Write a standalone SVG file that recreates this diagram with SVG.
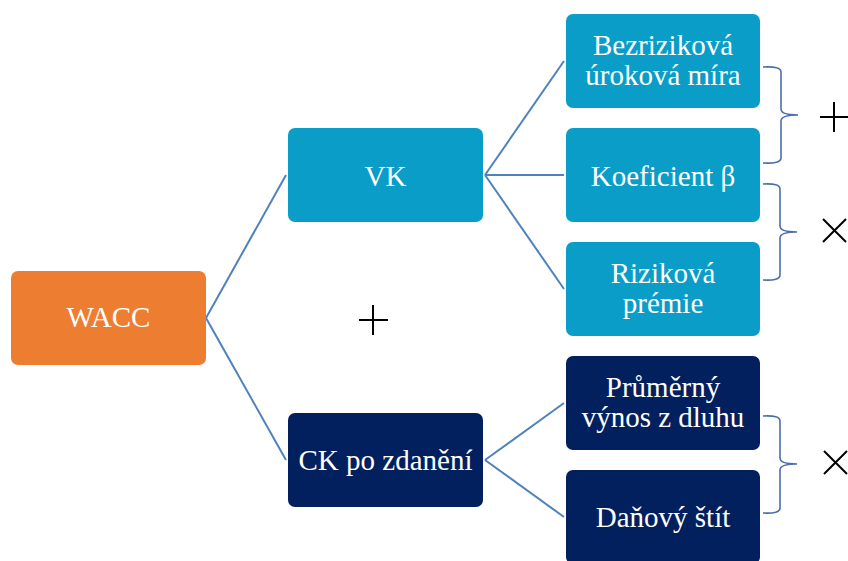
<svg xmlns="http://www.w3.org/2000/svg" width="848" height="561" viewBox="0 0 848 561">
<style>
.t{font-family:"Liberation Serif","Times New Roman",serif;font-size:29px;fill:#fff;text-anchor:middle}
.lb{fill:#0A9DC7}
.nv{fill:#021F5E}
.or{fill:#ED7D31}
.c{stroke:#4F81BD;stroke-width:2;fill:none}
.br{stroke:#4A6FAE;stroke-width:1.6;fill:none}
.op{stroke:#000;stroke-width:2;fill:none}
</style>
<rect width="848" height="561" fill="#fff"/>
<g id="connectors">
<path class="c" d="M206,318 L286,175"/>
<path class="c" d="M206,318 L286,460"/>
<path class="c" d="M485,175 L564,61"/>
<path class="c" d="M485,175 L564,175"/>
<path class="c" d="M485,175 L564,289"/>
<path class="c" d="M485,460 L564,403"/>
<path class="c" d="M485,460 L564,517"/>
</g>
<g id="wacc"><rect class="or" x="11" y="271" width="195" height="94" rx="7"/><text class="t" x="108.5" y="327">WACC</text></g>
<g id="vk"><rect class="lb" x="288" y="128" width="195" height="94" rx="7"/><text class="t" x="385.5" y="186">VK</text></g>
<g id="ck"><rect class="nv" x="288" y="413" width="195" height="94" rx="7"/><text class="t" x="385.5" y="470">CK po zdanění</text></g>
<g id="bezrizikova"><rect class="lb" x="566" y="14" width="194" height="94" rx="7"/><text class="t" x="663" y="55">Bezriziková</text><text class="t" x="663" y="85">úroková míra</text></g>
<g id="koeficient"><rect class="lb" x="566" y="128" width="194" height="94" rx="7"/><text class="t" x="663" y="186">Koeficient β</text></g>
<g id="rizikova"><rect class="lb" x="566" y="242" width="194" height="94" rx="7"/><text class="t" x="663" y="283">Riziková</text><text class="t" x="663" y="313">prémie</text></g>
<g id="prumerny"><rect class="nv" x="566" y="356" width="194" height="94" rx="7"/><text class="t" x="663" y="397">Průměrný</text><text class="t" x="663" y="427">výnos z dluhu</text></g>
<g id="danovy"><rect class="nv" x="566" y="470" width="194" height="94" rx="7"/><text class="t" x="663" y="527">Daňový štít</text></g>
<g id="braces">
<path class="br" d="M763,67 Q781,66 781,72 L781,109 Q781,115 798,115 Q781,115 781,121 L781,158 Q781,164 763,163"/>
<path class="br" d="M763,184 Q780,183 780,189 L780,226 Q780,232 797,232 Q780,232 780,238 L780,275 Q780,281 763,280"/>
<path class="br" d="M763,416 Q780,415 780,421 L780,458 Q780,464 797,464 Q780,464 780,470 L780,508 Q780,514 763,513"/>
</g>
<g id="operators">
<path class="op" d="M820,117 H848 M834,102 V132"/>
<path class="op" d="M823,219 L846,242 M846,219 L823,242"/>
<path class="op" d="M824,451 L847,474 M847,451 L824,474"/>
<path class="op" d="M359,320 H388 M373,305 V335"/>
</g>
</svg>
